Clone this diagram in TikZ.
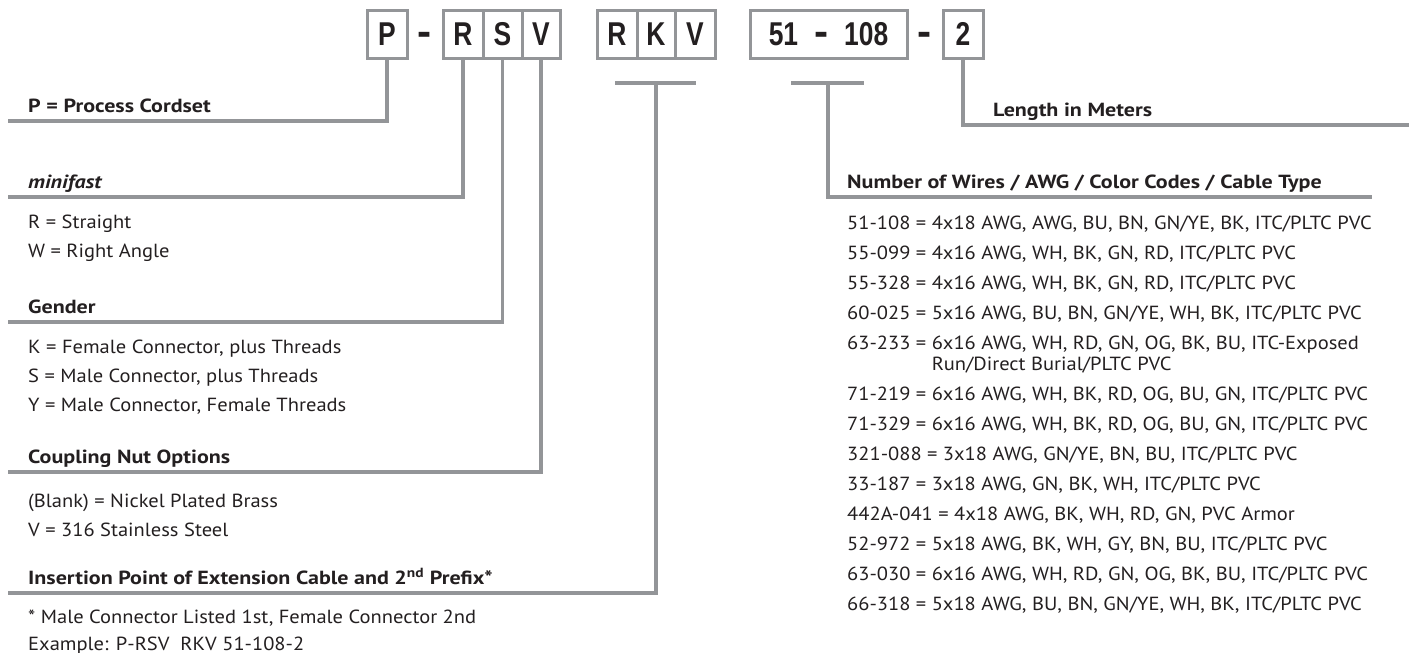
\documentclass[tikz,border=0pt]{standalone}
\usepackage{graphicx}
\usepackage{fontspec}
\setmainfont{PT Sans}[UprightFeatures={FakeStretch=1.08},ItalicFeatures={FakeStretch=1.08},
  BoldFeatures={FakeStretch=1.16},BoldItalicFeatures={FakeStretch=1.16}]
\newfontfamily\boxfont[FakeStretch=0.8]{Liberation Sans}
\newcommand\bdash{\scalebox{1.6}[1.25]{-}}
\definecolor{lgray}{RGB}{147,149,152}
\definecolor{ink}{RGB}{35,31,32}
\begin{document}
\begin{tikzpicture}[x=1pt,y=-1pt,line join=miter,
  cell/.style={draw=lgray,line width=3pt,minimum height=48pt,inner sep=0pt,
    font=\boxfont\bfseries\fontsize{33}{33}\selectfont,text=ink},
  sepch/.style={inner sep=0pt,font=\boxfont\bfseries\fontsize{33}{33}\selectfont,text=ink},
  conn/.style={draw=lgray,line width=3.5pt},
  hdr/.style={anchor=base west,inner sep=0pt,font=\bfseries\fontsize{19}{22}\selectfont,text=ink},
  body/.style={anchor=base west,inner sep=0pt,font=\fontsize{19}{22}\selectfont,text=ink}]
\useasboundingbox (0,0) rectangle (1409,653);

% code boxes
\node[cell,minimum width=40pt] (P) at (387,34) {P};
\node[sepch] (d1) at (425,34) {\vphantom{P}\bdash};
\node[cell,minimum width=40pt] (R1) at (463,34) {R};
\node[cell,minimum width=39pt] (S1) at (502.5,34) {S};
\node[cell,minimum width=38pt] (V1) at (541,34) {V};
\node[cell,minimum width=40pt] (R2) at (617,34) {R};
\node[cell,minimum width=38pt] (K2) at (656,34) {K};
\node[cell,minimum width=40pt] (V2) at (695,34) {V};
\node[cell,minimum width=157pt] (N) at (828.5,34) {51\hspace{16pt}\bdash\hspace{16pt}108};
\node[sepch] (d2) at (925,34) {\vphantom{P}\bdash};
\node[cell,minimum width=40pt] (L) at (963,34) {2};

% left column
\node[hdr] (hP) at (28,112) {P = Process Cordset};
\coordinate (lP) at (8,121);
\draw[conn] (P.south) |- (lP);

\node[hdr] (hM) at (28,188) {\itshape minifast};
\coordinate (lM) at (8,197);
\draw[conn] (R1.south) |- (lM);
\node[body] (m1) at (28,228) {R = Straight};
\node[body] (m2) at (28,257) {W = Right Angle};

\node[hdr] (hG) at (28,313) {Gender};
\coordinate (lG) at (8,322);
\draw[conn] (S1.south) |- (lG);
\node[body] (g1) at (28,353) {K = Female Connector, plus Threads};
\node[body] (g2) at (28,382) {S = Male Connector, plus Threads};
\node[body] (g3) at (28,411) {Y = Male Connector, Female Threads};

\node[hdr] (hC) at (28,463) {Coupling Nut Options};
\coordinate (lC) at (8,472);
\draw[conn] (V1.south) |- (lC);
\node[body] (c1) at (28,507) {(Blank) = Nickel Plated Brass};
\node[body] (c2) at (28,536) {V = 316 Stainless Steel};

\node[hdr] (hI) at (28,584) {Insertion Point of Extension Cable and 2\textsuperscript{nd} Prefix*};
\coordinate (bI1) at (615,83);
\coordinate (bI2) at (696,83);
\coordinate (mI) at (656,83);
\coordinate (lI) at (8,593);
\draw[conn] (bI1) -- (bI2);
\draw[conn] (mI) |- (lI);
\node[body] (i1) at (28,623) {* Male Connector Listed 1st, Female Connector 2nd};
\node[body] (i2) at (28,650) {Example: P-RSV\ \ RKV 51-108-2};

% right column
\node[hdr] (hL) at (993,116) {Length in Meters};
\coordinate (lL) at (1409,125);
\draw[conn] (L.south) |- (lL);

\coordinate (bN1) at (791,83);
\coordinate (bN2) at (864,83);
\coordinate (mN) at (828,83);
\coordinate (lN) at (1372,197);
\draw[conn] (bN1) -- (bN2);
\draw[conn] (mN) |- (lN);
\node[hdr] (hN) at (847,188) {Number of Wires / AWG / Color Codes / Cable Type};

\node[body] (n1) at (847,229) {51-108 = 4x18 AWG, AWG, BU, BN, GN/YE, BK, ITC/PLTC PVC};
\node[body] (n2) at (847,259) {55-099 = 4x16 AWG, WH, BK, GN, RD, ITC/PLTC PVC};
\node[body] (n3) at (847,289) {55-328 = 4x16 AWG, WH, BK, GN, RD, ITC/PLTC PVC};
\node[body] (n4) at (847,319) {60-025 = 5x16 AWG, BU, BN, GN/YE, WH, BK, ITC/PLTC PVC};
\node[body] (n5) at (847,349) {63-233 = 6x16 AWG, WH, RD, GN, OG, BK, BU, ITC-Exposed};
\node[body] (n5b) at (847,370) {\phantom{63-233 = }Run/Direct Burial/PLTC PVC};
\node[body] (n6) at (847,400) {71-219 = 6x16 AWG, WH, BK, RD, OG, BU, GN, ITC/PLTC PVC};
\node[body] (n7) at (847,430) {71-329 = 6x16 AWG, WH, BK, RD, OG, BU, GN, ITC/PLTC PVC};
\node[body] (n8) at (847,460) {321-088 = 3x18 AWG, GN/YE, BN, BU, ITC/PLTC PVC};
\node[body] (n9) at (847,490) {33-187 = 3x18 AWG, GN, BK, WH, ITC/PLTC PVC};
\node[body] (n10) at (847,520) {442A-041 = 4x18 AWG, BK, WH, RD, GN, PVC Armor};
\node[body] (n11) at (847,550) {52-972 = 5x18 AWG, BK, WH, GY, BN, BU, ITC/PLTC PVC};
\node[body] (n12) at (847,580) {63-030 = 6x16 AWG, WH, RD, GN, OG, BK, BU, ITC/PLTC PVC};
\node[body] (n13) at (847,610) {66-318 = 5x18 AWG, BU, BN, GN/YE, WH, BK, ITC/PLTC PVC};
\end{tikzpicture}
\end{document}
